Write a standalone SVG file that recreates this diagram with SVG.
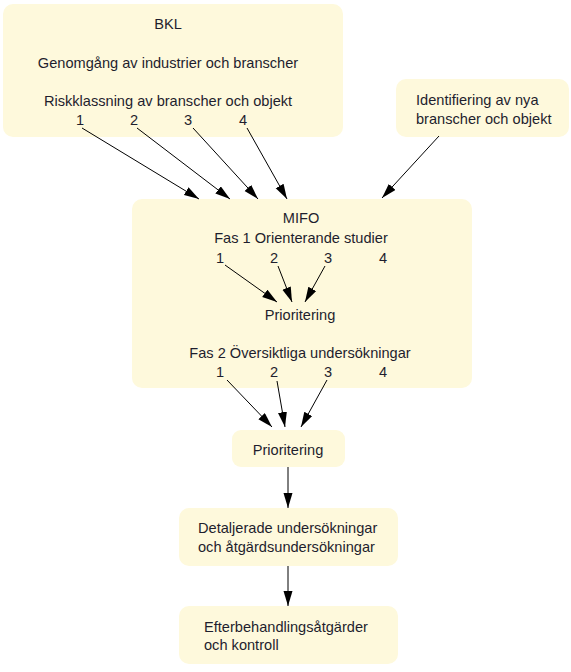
<svg xmlns="http://www.w3.org/2000/svg" width="571" height="672" viewBox="0 0 571 672">
<style>
.box{fill:#fef9dc;stroke:none}
text{font-family:"Liberation Sans",Arial,sans-serif;font-size:14.6px;fill:#1e1e2e}
.c{text-anchor:middle}
.edge{stroke:#000;stroke-width:1;fill:none;marker-end:url(#ah)}
</style>
<defs>
<marker id="ah" markerUnits="userSpaceOnUse" markerWidth="16" markerHeight="10" refX="15" refY="4.5" orient="auto">
<path d="M0,0 L15,4.5 L0,9 z" fill="#000"/>
</marker>
</defs>
<rect width="571" height="672" fill="#fff"/>
<g id="bkl">
<rect class="box" x="3" y="4" width="340" height="133" rx="10"/>
<text class="c" x="168" y="29">BKL</text>
<text class="c" x="168" y="68">Genomgång av industrier och branscher</text>
<text class="c" x="168" y="106">Riskklassning av branscher och objekt</text>
<text class="c" x="80" y="125">1</text>
<text class="c" x="134" y="125">2</text>
<text class="c" x="188" y="125">3</text>
<text class="c" x="243" y="125">4</text>
</g>
<g id="identifiering">
<rect class="box" x="396" y="79" width="173" height="58" rx="10"/>
<text x="416" y="105">Identifiering av nya</text>
<text x="416" y="124">branscher och objekt</text>
</g>
<g id="mifo">
<rect class="box" x="132" y="199" width="340" height="189" rx="10"/>
<text class="c" x="301" y="223">MIFO</text>
<text class="c" x="301" y="243">Fas 1 Orienterande studier</text>
<text class="c" x="220" y="263">1</text>
<text class="c" x="274" y="263">2</text>
<text class="c" x="328" y="263">3</text>
<text class="c" x="383" y="263">4</text>
<text class="c" x="300" y="320">Prioritering</text>
<text class="c" x="300" y="358">Fas 2 Översiktliga undersökningar</text>
<text class="c" x="220" y="377">1</text>
<text class="c" x="274" y="377">2</text>
<text class="c" x="328" y="377">3</text>
<text class="c" x="383" y="377">4</text>
</g>
<g id="prioritering">
<rect class="box" x="232" y="430" width="113" height="37" rx="9"/>
<text class="c" x="288" y="455">Prioritering</text>
</g>
<g id="detaljerade">
<rect class="box" x="179" y="508" width="219" height="58" rx="10"/>
<text x="198" y="533">Detaljerade undersökningar</text>
<text x="198" y="552">och åtgärdsundersökningar</text>
</g>
<g id="efterbehandling">
<rect class="box" x="179" y="606" width="219" height="58" rx="10"/>
<text x="204" y="632">Efterbehandlingsåtgärder</text>
<text x="204" y="650">och kontroll</text>
</g>
<g id="connectors">
<line class="edge" x1="82" y1="128" x2="199" y2="199"/>
<line class="edge" x1="137" y1="128" x2="230" y2="199"/>
<line class="edge" x1="193" y1="128" x2="258" y2="199"/>
<line class="edge" x1="247" y1="128" x2="287" y2="199"/>
<line class="edge" x1="439" y1="136" x2="382" y2="198"/>
<line class="edge" x1="225" y1="265" x2="277" y2="302"/>
<line class="edge" x1="278" y1="266" x2="292" y2="302"/>
<line class="edge" x1="325" y1="266" x2="305" y2="302"/>
<line class="edge" x1="227" y1="380" x2="272" y2="427"/>
<line class="edge" x1="277" y1="381" x2="285" y2="427"/>
<line class="edge" x1="327" y1="380" x2="301" y2="427"/>
<line class="edge" x1="288" y1="467" x2="288" y2="508"/>
<line class="edge" x1="288" y1="566" x2="288" y2="606"/>
</g>
</svg>
